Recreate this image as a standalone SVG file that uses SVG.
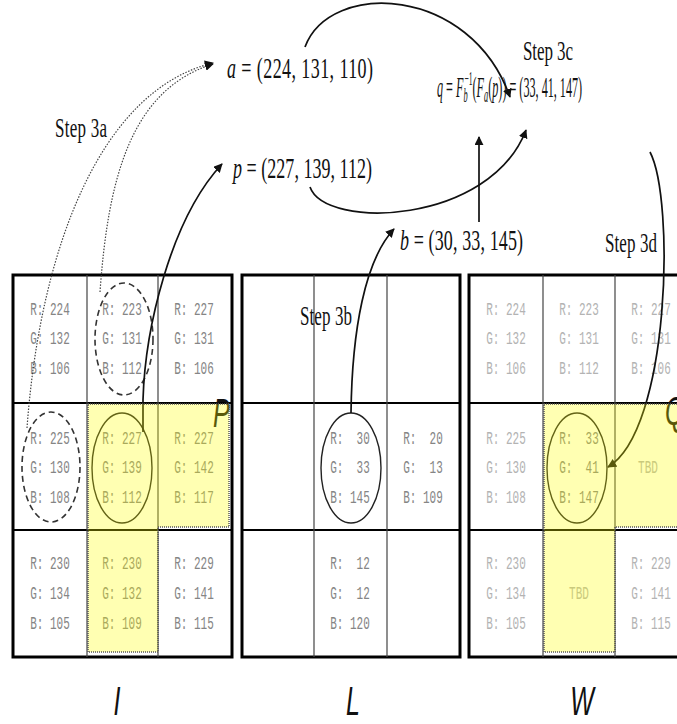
<svg xmlns="http://www.w3.org/2000/svg" width="677" height="724" viewBox="0 0 677 724">
<style>
.serif{font-family:"Liberation Serif","Times New Roman",serif;fill:#111}
.it{font-style:italic}
.mono{font-family:"Liberation Mono","DejaVu Sans Mono",monospace;font-size:11px;text-anchor:middle;white-space:pre}
.g1{fill:#858585}
.g2{fill:#b3b3b3}
.lab{font-family:"Liberation Sans",Arial,sans-serif;font-style:italic;font-size:25px;fill:#111}
.outer{fill:#fff;stroke:#000;stroke-width:3}
.row{stroke:#000;stroke-width:2}
.col{stroke:#444;stroke-width:1.2}
.dash{fill:none;stroke:#333;stroke-width:1.6;stroke-dasharray:6 4}
.ring{fill:none;stroke:#222;stroke-width:1.4}
.dot{fill:none;stroke:#444;stroke-width:1.2;stroke-dasharray:1.5 1.5}
.arr{fill:none;stroke:#111;stroke-width:1.7}
.hl{fill:#ffff00;fill-opacity:0.3;stroke:none}
.hlb{fill:none;stroke:#555;stroke-width:1.5;stroke-dasharray:1 1}
</style>
<defs>
<marker id="ah" viewBox="0 0 10 10" refX="9" refY="5" markerWidth="9" markerHeight="9" markerUnits="userSpaceOnUse" orient="auto">
<path d="M0,0 L10,5 L0,10 Z" fill="#111"/>
</marker>
</defs>

<g id="grid-I">
<rect class="outer" x="13" y="275" width="219" height="382"/>
<line class="row" x1="13" y1="403" x2="232" y2="403"/>
<line class="row" x1="13" y1="530" x2="232" y2="530"/>
<line class="col" x1="87" y1="275" x2="87" y2="657"/>
<line class="col" x1="158" y1="275" x2="158" y2="657"/>
<g class="mono g1">
<text transform="translate(50,315) scale(1,1.6)">R: 224</text>
<text transform="translate(50,344) scale(1,1.6)">G: 132</text>
<text transform="translate(50,374) scale(1,1.6)">B: 106</text>
<text transform="translate(122,315) scale(1,1.6)">R: 223</text>
<text transform="translate(122,344) scale(1,1.6)">G: 131</text>
<text transform="translate(122,374) scale(1,1.6)">B: 112</text>
<text transform="translate(194,315) scale(1,1.6)">R: 227</text>
<text transform="translate(194,344) scale(1,1.6)">G: 131</text>
<text transform="translate(194,374) scale(1,1.6)">B: 106</text>
<text transform="translate(50,444) scale(1,1.6)">R: 225</text>
<text transform="translate(50,473) scale(1,1.6)">G: 130</text>
<text transform="translate(50,503) scale(1,1.6)">B: 108</text>
<text transform="translate(122,444) scale(1,1.6)">R: 227</text>
<text transform="translate(122,473) scale(1,1.6)">G: 139</text>
<text transform="translate(122,503) scale(1,1.6)">B: 112</text>
<text transform="translate(194,444) scale(1,1.6)">R: 227</text>
<text transform="translate(194,473) scale(1,1.6)">G: 142</text>
<text transform="translate(194,503) scale(1,1.6)">B: 117</text>
<text transform="translate(50,569) scale(1,1.6)">R: 230</text>
<text transform="translate(50,599) scale(1,1.6)">G: 134</text>
<text transform="translate(50,629) scale(1,1.6)">B: 105</text>
<text transform="translate(122,569) scale(1,1.6)">R: 230</text>
<text transform="translate(122,599) scale(1,1.6)">G: 132</text>
<text transform="translate(122,629) scale(1,1.6)">B: 109</text>
<text transform="translate(194,569) scale(1,1.6)">R: 229</text>
<text transform="translate(194,599) scale(1,1.6)">G: 141</text>
<text transform="translate(194,629) scale(1,1.6)">B: 115</text>
</g>
<ellipse class="dash" cx="124" cy="339" rx="29" ry="56"/>
<ellipse class="dash" cx="51" cy="467" rx="29" ry="55"/>
<ellipse class="ring" cx="122" cy="468" rx="30" ry="55"/>
<text class="lab" transform="translate(213,427) scale(1,1.6)">P</text>
<text class="lab" transform="translate(117,715) scale(1,1.6)" text-anchor="middle">I</text>
</g>

<g id="grid-L">
<rect class="outer" x="242" y="275" width="218" height="382"/>
<line class="row" x1="242" y1="403" x2="460" y2="403"/>
<line class="row" x1="242" y1="530" x2="460" y2="530"/>
<line class="col" x1="314" y1="275" x2="314" y2="657"/>
<line class="col" x1="387" y1="275" x2="387" y2="657"/>
<g class="mono g1">
<text xml:space="preserve" transform="translate(350,444) scale(1,1.6)">R:  30</text>
<text xml:space="preserve" transform="translate(350,473) scale(1,1.6)">G:  33</text>
<text transform="translate(350,503) scale(1,1.6)">B: 145</text>
<text xml:space="preserve" transform="translate(423,444) scale(1,1.6)">R:  20</text>
<text xml:space="preserve" transform="translate(423,473) scale(1,1.6)">G:  13</text>
<text transform="translate(423,503) scale(1,1.6)">B: 109</text>
<text xml:space="preserve" transform="translate(350,569) scale(1,1.6)">R:  12</text>
<text xml:space="preserve" transform="translate(350,599) scale(1,1.6)">G:  12</text>
<text transform="translate(350,629) scale(1,1.6)">B: 120</text>
</g>
<ellipse class="ring" cx="351" cy="468" rx="30" ry="55"/>
<text class="serif" font-size="17" transform="translate(300,325) scale(1,1.6)" textLength="52">Step 3b</text>
<text class="lab" transform="translate(353,715) scale(1,1.6)" text-anchor="middle">L</text>
</g>

<g id="grid-W">
<rect class="outer" x="469" y="275" width="221" height="382"/>
<line class="row" x1="469" y1="403" x2="690" y2="403"/>
<line class="row" x1="469" y1="530" x2="690" y2="530"/>
<line class="col" x1="543" y1="275" x2="543" y2="657"/>
<line class="col" x1="615" y1="275" x2="615" y2="657"/>
<g class="mono g2">
<text transform="translate(506,315) scale(1,1.6)">R: 224</text>
<text transform="translate(506,344) scale(1,1.6)">G: 132</text>
<text transform="translate(506,374) scale(1,1.6)">B: 106</text>
<text transform="translate(579,315) scale(1,1.6)">R: 223</text>
<text transform="translate(579,344) scale(1,1.6)">G: 131</text>
<text transform="translate(579,374) scale(1,1.6)">B: 112</text>
<text transform="translate(651,315) scale(1,1.6)">R: 227</text>
<text transform="translate(651,344) scale(1,1.6)">G: 131</text>
<text transform="translate(651,374) scale(1,1.6)">B: 106</text>
<text transform="translate(506,444) scale(1,1.6)">R: 225</text>
<text transform="translate(506,473) scale(1,1.6)">G: 130</text>
<text transform="translate(506,503) scale(1,1.6)">B: 108</text>
<text transform="translate(648,473) scale(1,1.6)">TBD</text>
<text transform="translate(506,569) scale(1,1.6)">R: 230</text>
<text transform="translate(506,599) scale(1,1.6)">G: 134</text>
<text transform="translate(506,629) scale(1,1.6)">B: 105</text>
<text transform="translate(579,599) scale(1,1.6)">TBD</text>
<text transform="translate(651,569) scale(1,1.6)">R: 229</text>
<text transform="translate(651,599) scale(1,1.6)">G: 141</text>
<text transform="translate(651,629) scale(1,1.6)">B: 115</text>
</g>
<g class="mono g1">
<text xml:space="preserve" transform="translate(579,444) scale(1,1.6)">R:  33</text>
<text xml:space="preserve" transform="translate(579,473) scale(1,1.6)">G:  41</text>
<text transform="translate(579,503) scale(1,1.6)">B: 147</text>
</g>
<ellipse class="ring" cx="577" cy="468" rx="30" ry="55"/>
<text class="lab" transform="translate(665,425) scale(1,1.6)">Q</text>
<text class="lab" transform="translate(582,715) scale(1,1.6)" text-anchor="middle">W</text>
</g>

<g id="formula-a">
<text class="serif" font-size="18" transform="translate(227,78) scale(1,1.6)" textLength="146"><tspan class="it">a</tspan> = (224, 131, 110)</text>
</g>
<g id="formula-p">
<text class="serif" font-size="18" transform="translate(233,178) scale(1,1.6)" textLength="139"><tspan class="it">p</tspan> = (227, 139, 112)</text>
</g>
<g id="formula-b">
<text class="serif" font-size="18" transform="translate(400,250) scale(1,1.6)" textLength="123"><tspan class="it">b</tspan> = (30, 33, 145)</text>
</g>
<g id="formula-q">
<text class="serif" font-size="19" transform="translate(437,97) scale(0.64,1.55)"><tspan class="it">q</tspan> = <tspan class="it">F</tspan><tspan class="it" font-size="13" dy="3">b</tspan><tspan font-size="12" dy="-11" dx="-5">−1</tspan><tspan dy="8">(</tspan><tspan class="it">F</tspan><tspan class="it" font-size="13" dy="3">a</tspan><tspan dy="-3">(</tspan><tspan class="it">p</tspan>)) = (33, 41, 147)</text>
</g>
<g id="step-labels">
<text class="serif" font-size="17" transform="translate(55,137) scale(1,1.6)" textLength="52">Step 3a</text>
<text class="serif" font-size="17" transform="translate(523,60) scale(1,1.6)" textLength="50">Step 3c</text>
<text class="serif" font-size="17" transform="translate(605,252) scale(1,1.6)" textLength="52">Step 3d</text>
</g>

<g id="connectors">
<path class="dot" d="M27,428 C40,250 100,90 213,63" marker-end="url(#ah)"/>
<path class="dot" d="M100,292 C108,180 130,90 213,64" marker-end="url(#ah)"/>
<path class="arr" d="M143,432 L143,400 C145,330 170,220 222,164" marker-end="url(#ah)"/>
<path class="arr" d="M305,47 C330,-20 470,-15 510,97" marker-end="url(#ah)"/>
<path class="arr" d="M310,187 C325,230 490,225 526,130" marker-end="url(#ah)"/>
<path class="arr" d="M479,222 L479,137" marker-end="url(#ah)"/>
<path class="arr" d="M351,413 C352,330 365,260 394,229" stroke-width="1.3" marker-end="url(#ah)"/>
<path class="arr" d="M650,152 C675,200 670,430 608,467" stroke-width="1.3" marker-end="url(#ah)"/>
</g>

<g id="highlight-P">
<path class="hl" d="M88,404 H229 V527 H158 V652 H88 Z"/>
<path class="hlb" d="M88,404 H229 V527 H158 V652 H88 Z"/>
</g>
<g id="highlight-Q">
<path class="hl" d="M544,404 H690 V527 H615 V652 H544 Z"/>
<path class="hlb" d="M544,404 H690 V527 H615 V652 H544 Z"/>
</g>
</svg>
